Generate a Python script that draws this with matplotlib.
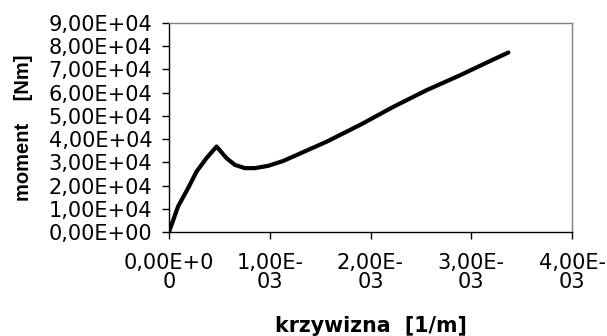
import matplotlib
matplotlib.use("Agg")
import matplotlib.pyplot as plt

# data (curvature [1/m], moment [Nm])
curvature = [0.0, 0.09e-3, 0.19e-3, 0.273e-3, 0.372e-3, 0.472e-3, 0.571e-3, 0.654e-3,
             0.753e-3, 0.852e-3, 0.985e-3, 1.134e-3, 1.233e-3, 1.565e-3, 1.896e-3,
             2.227e-3, 2.558e-3, 2.889e-3, 3.22e-3, 3.369e-3]
moment = [0.0, 1.1e4, 1.89e4, 2.6e4, 3.18e4, 3.68e4, 3.18e4, 2.89e4,
          2.75e4, 2.75e4, 2.85e4, 3.06e4, 3.25e4, 3.89e4, 4.61e4,
          5.39e4, 6.11e4, 6.75e4, 7.43e4, 7.73e4]

xticks = [0.0, 1e-3, 2e-3, 3e-3, 4e-3]
xticklabels = ["0,00E+0\n0", "1,00E-\n03", "2,00E-\n03", "3,00E-\n03", "4,00E-\n03"]
yticks = [i * 1e4 for i in range(10)]
yticklabels = ["%d,00E+%s" % (i, "04" if i else "00") for i in range(10)]

plt.rcParams['font.family'] = ['DejaVu Sans']
fs = 15

fig = plt.figure(figsize=(6.07, 3.36), dpi=100)
W, H = 607, 336
left, right, top, bottom = 169, 572, 23, 232
ax = fig.add_axes([left / W, 1 - bottom / H, (right - left) / W, (bottom - top) / H])

ax.plot(curvature, moment, color='black', lw=3, solid_capstyle='round', solid_joinstyle='round')
ax.set_xlim(0, 4e-3)
ax.set_ylim(0, 9e4)
ax.set_xticks(xticks)
ax.set_xticklabels(xticklabels, fontsize=fs, linespacing=0.95)
ax.set_yticks(yticks)
ax.set_yticklabels(yticklabels, fontsize=fs)
ax.tick_params(axis='both', direction='out', length=5, width=1, color='black')
ax.tick_params(axis='y', pad=7)
ax.tick_params(axis='x', pad=10)

for s in ['left', 'bottom']:
    ax.spines[s].set_color('black')
    ax.spines[s].set_linewidth(1)
for s in ['top', 'right']:
    ax.spines[s].set_color('#808080')
    ax.spines[s].set_linewidth(1)

ax.set_xlabel("krzywizna  [1/m]", fontsize=14.8, fontweight='bold', labelpad=17)
ax.set_ylabel("moment    [Nm]", fontsize=14.5, fontweight='bold',
              family=['Liberation Sans', 'DejaVu Sans'], labelpad=11)

fig.savefig("out.png", dpi=100)
